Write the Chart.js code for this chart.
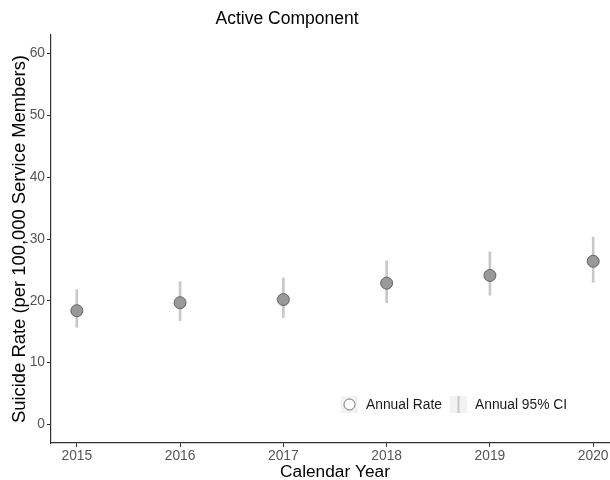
<!DOCTYPE html>
<html>
<head>
<meta charset="utf-8">
<script src="https://cdn.jsdelivr.net/npm/chart.js@4/dist/chart.umd.min.js"></script>
<style>
  html, body { margin: 0; padding: 0; background: #fff; overflow: hidden; }
  #wrap { width: 610px; height: 480px; overflow: hidden; }
  canvas { display: block; }
</style>
</head>
<body>
<div id="wrap"><canvas id="c" width="626" height="480"></canvas></div>
<script>
// Annual suicide rate, active component, with 95% confidence intervals
const years = [2015, 2016, 2017, 2018, 2019, 2020];
const rates = [18.4, 19.7, 20.2, 22.85, 24.1, 26.4];
const ciLow = [15.7, 16.8, 17.3, 19.7, 20.9, 23.0];
const ciHigh = [21.8, 23.1, 23.7, 26.5, 27.9, 30.3];
const yTicks = [0, 10, 20, 30, 40, 50, 60];

const FONT = "'Liberation Sans', Arial, sans-serif";

const pointData = years.map((y, i) => ({ x: y, y: rates[i] }));
const ciData = years.map((y, i) => ({ x: y, y: [ciLow[i], ciHigh[i]] }));

// Title and inset legend drawn on the canvas
const decor = {
  id: 'decor',
  afterDraw(chart) {
    const ctx = chart.ctx;
    ctx.save();
    ctx.fillStyle = '#000';
    ctx.font = `17.5px ${FONT}`;
    ctx.textAlign = 'center';
    ctx.textBaseline = 'middle';
    ctx.fillText('Active Component', 287, 19);

    // legend keys
    const ky = 404;
    ctx.fillStyle = '#f2f2f2';
    ctx.fillRect(341, ky - 8, 17, 17);
    ctx.fillRect(450, ky - 8, 17, 17);
    ctx.beginPath();
    ctx.arc(349.5, ky + 0.5, 5.5, 0, Math.PI * 2);
    ctx.fillStyle = '#fff';
    ctx.fill();
    ctx.strokeStyle = '#555';
    ctx.lineWidth = 0.8;
    ctx.stroke();
    ctx.beginPath();
    ctx.moveTo(458.5, ky - 8);
    ctx.lineTo(458.5, ky + 9);
    ctx.strokeStyle = '#c8c8c8';
    ctx.lineWidth = 2;
    ctx.stroke();

    ctx.fillStyle = '#1a1a1a';
    ctx.font = `13.8px ${FONT}`;
    ctx.textAlign = 'left';
    ctx.fillText('Annual Rate', 366, ky + 1);
    ctx.fillText('Annual 95% CI', 475, ky + 1);
    ctx.restore();
  }
};

new Chart(document.getElementById('c'), {
  type: 'scatter',
  data: {
    datasets: [
      {
        type: 'bar',
        label: 'Annual 95% CI',
        data: ciData,
        backgroundColor: '#c8c8c8',
        borderWidth: 0,
        barThickness: 2,
        order: 2
      },
      {
        type: 'scatter',
        label: 'Annual Rate',
        data: pointData,
        backgroundColor: '#999999',
        borderColor: '#4d4d4d',
        borderWidth: 0.8,
        pointRadius: 6,
        order: 1
      }
    ]
  },
  options: {
    responsive: false,
    animation: false,
    layout: { padding: { top: 35, right: 7, left: 0, bottom: 0 } },
    plugins: {
      legend: { display: false },
      title: { display: false },
      tooltip: { enabled: false }
    },
    scales: {
      x: {
        type: 'linear',
        min: 2014.75,
        max: 2020.25,
        offset: false,
        afterBuildTicks(scale) { scale.ticks = years.map(v => ({ value: v })); },
        afterFit(scale) { scale.height = 37; },
        grid: { display: true, offset: false, drawOnChartArea: false, drawTicks: true, tickLength: 4, tickColor: '#333', tickWidth: 1 },
        border: { display: true, color: '#333', width: 1.2 },
        ticks: {
          color: '#555',
          font: { family: FONT, size: 13.8 },
          padding: 1,
          maxRotation: 0,
          callback: v => String(v)
        },
        title: {
          display: true,
          text: 'Calendar Year',
          color: '#000',
          font: { family: FONT, size: 17.3 },
          padding: { top: 2, bottom: -3 }
        }
      },
      y: {
        type: 'linear',
        min: -3,
        max: 63,
        afterBuildTicks(scale) { scale.ticks = yTicks.map(v => ({ value: v })); },
        afterFit(scale) { scale.width = 51; },
        grid: { display: true, drawOnChartArea: false, drawTicks: true, tickLength: 4, tickColor: '#333', tickWidth: 1 },
        border: { display: true, color: '#333', width: 1.2 },
        ticks: {
          color: '#555',
          font: { family: FONT, size: 13.8 },
          padding: 2
        },
        title: {
          display: true,
          text: 'Suicide Rate (per 100,000 Service Members)',
          color: '#000',
          font: { family: FONT, size: 18.4 },
          padding: { top: 9, bottom: 0 }
        }
      }
    }
  },
  plugins: [decor]
});
</script>
</body>
</html>
